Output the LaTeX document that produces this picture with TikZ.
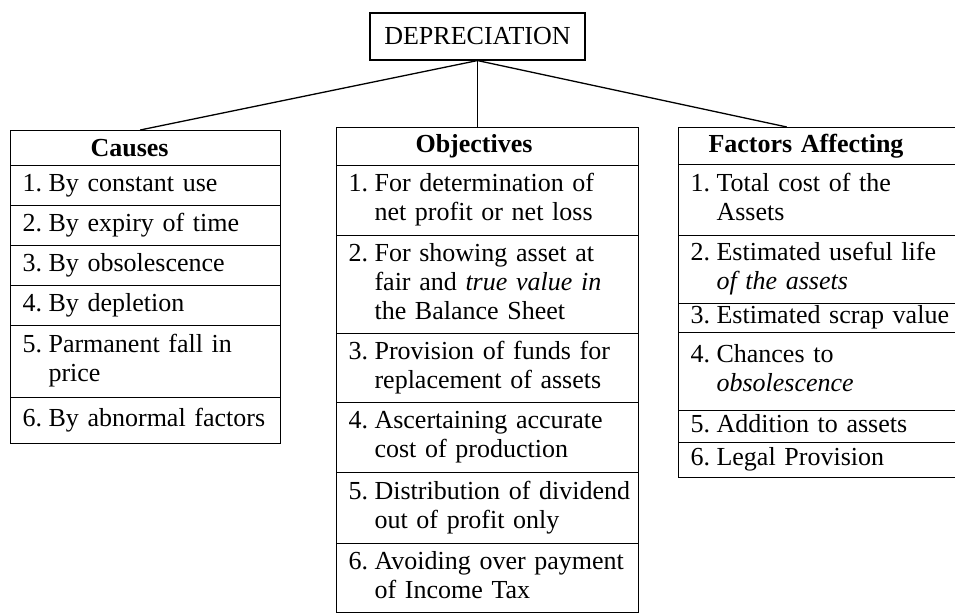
\documentclass[tikz,border=0pt]{standalone}
\usepackage{fontspec}
\setmainfont{Liberation Serif}
\usepackage{array}
\usetikzlibrary{calc}
\newcommand{\itm}[2]{\begin{tabular}{@{}p{26pt}@{}l@{}}#1&#2\end{tabular}}
\begin{document}
\begin{tikzpicture}[x=1pt,y=-1pt,
  every node/.style={font=\fontsize{26}{29}\selectfont},
  cell/.style={draw, line width=1.1pt, anchor=north west, inner xsep=12pt, inner ysep=0pt, align=left},
  head/.style={cell, font=\fontsize{26}{29}\selectfont\bfseries},
  link/.style={line width=1.3pt}]
\useasboundingbox (0,0) rectangle (955,614);
\clip (0,0) rectangle (955,614);

% top
\node[draw, line width=1.1pt, minimum width=215pt, minimum height=47pt, inner sep=0pt] (dep) at (477.5,36.5) {DEPRECIATION};

% Causes
\begin{scope}[every node/.append style={text width=246pt}]
\node[head, minimum height=35pt] (ch) at (10,130) {\hspace*{68pt}Causes};
\node[cell, minimum height=40pt] (c1) at (10,165) {\itm{1.}{By constant use}};
\node[cell, minimum height=40pt] (c2) at (10,205) {\itm{2.}{By expiry of time}};
\node[cell, minimum height=40pt] (c3) at (10,245) {\itm{3.}{By obsolescence}};
\node[cell, minimum height=40pt] (c4) at (10,285) {\itm{4.}{By depletion}};
\node[cell, minimum height=72pt] (c5) at (10,325) {\itm{5.}{Parmanent fall in\\&price}};
\node[cell, minimum height=46pt] (c6) at (10,397) {\itm{6.}{By abnormal factors}};
\end{scope}

% Objectives
\begin{scope}[every node/.append style={text width=278pt}]
\node[head, minimum height=38pt] (oh) at (336,127) {\hspace*{67pt}Objectives};
\node[cell, minimum height=70pt] (o1) at (336,165) {\itm{1.}{For determination of\\&net profit or net loss}};
\node[cell, minimum height=98pt] (o2) at (336,235) {\itm{2.}{For showing asset at\\&fair and \textit{true value in}\\&the Balance Sheet}};
\node[cell, minimum height=69pt] (o3) at (336,333) {\itm{3.}{Provision of funds for\\&replacement of assets}};
\node[cell, minimum height=70pt] (o4) at (336,402) {\itm{4.}{Ascertaining accurate\\&cost of production}};
\node[cell, minimum height=71pt] (o5) at (336,472) {\itm{5.}{Distribution of dividend\\&out of profit only}};
\node[cell, minimum height=69pt] (o6) at (336,543) {\itm{6.}{Avoiding over payment\\&of Income Tax}};
\end{scope}

% Factors Affecting
\begin{scope}[every node/.append style={text width=254pt}]
\node[head, minimum height=37pt] (fh) at (678,127) {\hspace*{18pt}Factors Affecting};
\node[cell, minimum height=71pt] (f1) at (678,164) {\itm{1.}{Total cost of the\\&Assets}};
\node[cell, minimum height=68pt] (f2) at (678,235) {\itm{2.}{Estimated useful life\\&\textit{of the assets}}};
\node[cell, minimum height=29pt] (f3) at (678,303) {\itm{3.}{Estimated scrap value}};
\node[cell, minimum height=78pt] (f4) at (678,332) {\itm{4.}{Chances to\\&\textit{obsolescence}}};
\node[cell, minimum height=32pt] (f5) at (678,410) {\itm{5.}{Addition to assets}};
\node[cell, minimum height=35pt] (f6) at (678,442) {\itm{6.}{Legal Provision}};
\end{scope}

% connectors
\draw[link] (dep.south) -- ($(ch.north west)!0.48!(ch.north east)$);
\draw[link] (dep.south) -- (dep.south |- oh.north);
\draw[link] (dep.south) -- ($(fh.north west)!0.39!(fh.north east)$);
\end{tikzpicture}
\end{document}
